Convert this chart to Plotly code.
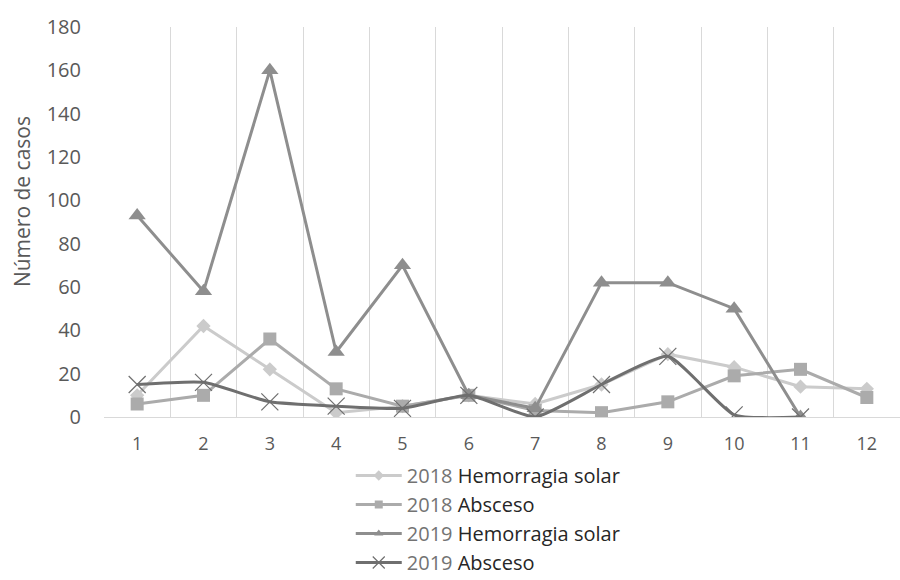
import plotly.graph_objects as go

# Monthly case counts
months = [1, 2, 3, 4, 5, 6, 7, 8, 9, 10, 11, 12]
month_labels = ["1", "2", "3", "4", "5", "6", "7", "8", "9", "10", "11", "12"]

hem_2018 = [10, 42, 22, 2, 5, 10, 6, 15, 29, 23, 14, 13]
abs_2018 = [6, 10, 36, 13, 5, 10, 3, 2, 7, 19, 22, 9]
hem_2019 = [93, 58, 160, 30, 70, 10, 4, 62, 62, 50, 0, None]
abs_2019 = [15, 16, 7, 5, 4, 10, 0, 15, 28, 1, 0, None]

yticks = [0, 20, 40, 60, 80, 100, 120, 140, 160, 180]

FONT = "'Open Sans', 'Noto Sans', sans-serif"

series = [
    dict(year="2018", label="Hemorragia solar", y=hem_2018, color="#cbcbcb",
         symbol="diamond", size=11, leg_size=8, shape="linear"),
    dict(year="2018", label="Absceso", y=abs_2018, color="#ababab",
         symbol="square", size=13, leg_size=8, shape="linear"),
    dict(year="2019", label="Hemorragia solar", y=hem_2019, color="#8e8e8e",
         symbol="triangle-up", size=15, leg_size=8, shape="linear"),
    dict(year="2019", label="Absceso", y=abs_2019, color="#6f6f6f",
         symbol="x-thin", size=17, leg_size=12, shape="spline"),
]

fig = go.Figure()

for s in series:
    marker_line = dict(width=1.2, color=s["color"]) if s["symbol"] == "x-thin" else dict(width=0)
    line = dict(color=s["color"], width=3, shape=s["shape"])
    if s["shape"] == "spline":
        line["smoothing"] = 0.5
    # data trace
    fig.add_trace(go.Scatter(
        x=months, y=s["y"], mode="lines+markers", showlegend=False,
        line=line,
        marker=dict(symbol=s["symbol"], size=s["size"], color=s["color"], line=marker_line),
    ))
    # legend entry with smaller marker
    fig.add_trace(go.Scatter(
        x=[None], y=[None], mode="lines+markers",
        name=f'<span style="color:#737373">{s["year"]}</span> {s["label"]}',
        line=dict(color=s["color"], width=3),
        marker=dict(symbol=s["symbol"], size=s["leg_size"], color=s["color"], line=marker_line),
    ))

fig.update_layout(
    width=900, height=580,
    margin=dict(l=104, r=0, t=27, b=163, autoexpand=False),
    paper_bgcolor="white", plot_bgcolor="white",
    font=dict(family=FONT, size=18, color="#595959"),
    showlegend=True,
    legend=dict(
        x=0.31, y=-0.1, xanchor="left", yanchor="top",
        font=dict(family=FONT, size=20, color="#262626"),
        bgcolor="rgba(0,0,0,0)", itemwidth=46,
    ),
    xaxis=dict(
        range=[0.5, 12.5],
        tickmode="array", tickvals=months, ticktext=month_labels,
        showgrid=False, zeroline=False,
        showline=True, linecolor="#d9d9d9", linewidth=1,
        ticks="", ticklabelstandoff=10,
        tickfont=dict(family=FONT, size=18, color="#595959"),
        minor=dict(tickvals=[m + 0.5 for m in months[:-1]],
                   showgrid=True, gridcolor="#d9d9d9", gridwidth=1, ticks=""),
    ),
    yaxis=dict(
        range=[0, 180],
        tickmode="array", tickvals=yticks,
        showgrid=False, zeroline=False, showline=False,
        ticks="", ticklabelstandoff=22,
        tickfont=dict(family=FONT, size=20, color="#595959"),
    ),
    annotations=[dict(
        text="Número de casos", textangle=-90, showarrow=False,
        xref="paper", yref="paper", x=-0.103, y=0.551,
        xanchor="center", yanchor="middle",
        font=dict(family=FONT, size=21, color="#595959"),
    )],
)

fig.write_html("out.html")
